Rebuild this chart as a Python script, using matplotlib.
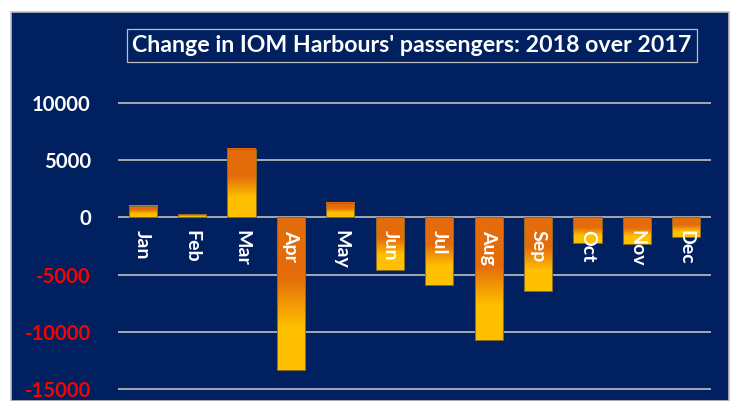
import numpy as np
import matplotlib
matplotlib.use("Agg")
import matplotlib.pyplot as plt
from matplotlib.colors import LinearSegmentedColormap
from matplotlib.patches import Rectangle

months = ["Jan", "Feb", "Mar", "Apr", "May", "Jun",
          "Jul", "Aug", "Sep", "Oct", "Nov", "Dec"]
change = [1000, 260, 5960, -13350, 1300, -4600,
          -5930, -10730, -6460, -2240, -2330, -1720]
yticks = [-15000, -10000, -5000, 0, 5000, 10000]
title = "Change in IOM Harbours' passengers: 2018 over 2017"

navy = "#002060"
orange = "#E46C0A"
yellow = "#FFC000"
grad = LinearSegmentedColormap.from_list(
    "bar", [(0.0, orange), (0.4, orange), (0.72, yellow), (1.0, yellow)])

W, H = 731, 401
fig = plt.figure(figsize=(W / 100, H / 100), dpi=100, facecolor="white")

# navy panel with light border
fig.patches.append(Rectangle((11 / W, 0), 718 / W, (H - 12) / H,
                             transform=fig.transFigure, facecolor=navy,
                             edgecolor="#BFBFBF", lw=1.2, zorder=-5))

ylo, yhi = -15100, 10100
px_per = 57.2 / 5000
top_px = 103 - (yhi - 10000) * px_per
bot_px = 389 + (-15000 - ylo) * px_per
ax = fig.add_axes([118 / W, (H - bot_px) / H, (711 - 118) / W, (bot_px - top_px) / H])
ax.set_facecolor("none")
ax.set_zorder(2)

x = np.arange(len(months))
width = 0.57
column = np.linspace(0, 1, 200).reshape(-1, 1)
for xi, v in zip(x, change):
    ax.imshow(column, cmap=grad, aspect="auto", origin="upper",
              extent=(xi - width / 2, xi + width / 2, min(v, 0), max(v, 0)),
              zorder=2, interpolation="bilinear")
ax.bar(x, change, width=width, facecolor="none", edgecolor="#8a6a2a",
       lw=0.7, zorder=3)

for xi, name in zip(x, months):
    ax.annotate(name, (xi, 0), xytext=(0, -9), textcoords="offset points",
                rotation=270, ha="center", va="top", color="white",
                fontsize=14, fontweight="bold", family="Lato", zorder=4)

ax.set_xlim(-0.5, 11.5)
ax.set_ylim(ylo, yhi)
ax.set_xticks([])
ax.set_yticks(yticks)
ax.set_yticklabels([str(t) for t in yticks], fontsize=14.6, fontweight="bold",
                   family="Lato")
for lab, t in zip(ax.get_yticklabels(), yticks):
    lab.set_color("red" if t < 0 else "white")
ax.tick_params(axis="y", length=0, pad=19.5)
ax.grid(axis="y", color="#BFBFBF", lw=1.2, zorder=1)
ax.set_axisbelow(True)
for s in ax.spines.values():
    s.set_visible(False)

fig.text(412 / W, 1 - 45.5 / H, title, ha="center", va="center", color="white",
         fontsize=16.7, fontweight="bold", family="Lato", zorder=5,
         bbox=dict(boxstyle="square,pad=0.25", facecolor=navy,
                   edgecolor="#BFBFBF", lw=0.9))

fig.savefig("out.png", dpi=100, facecolor="white")
